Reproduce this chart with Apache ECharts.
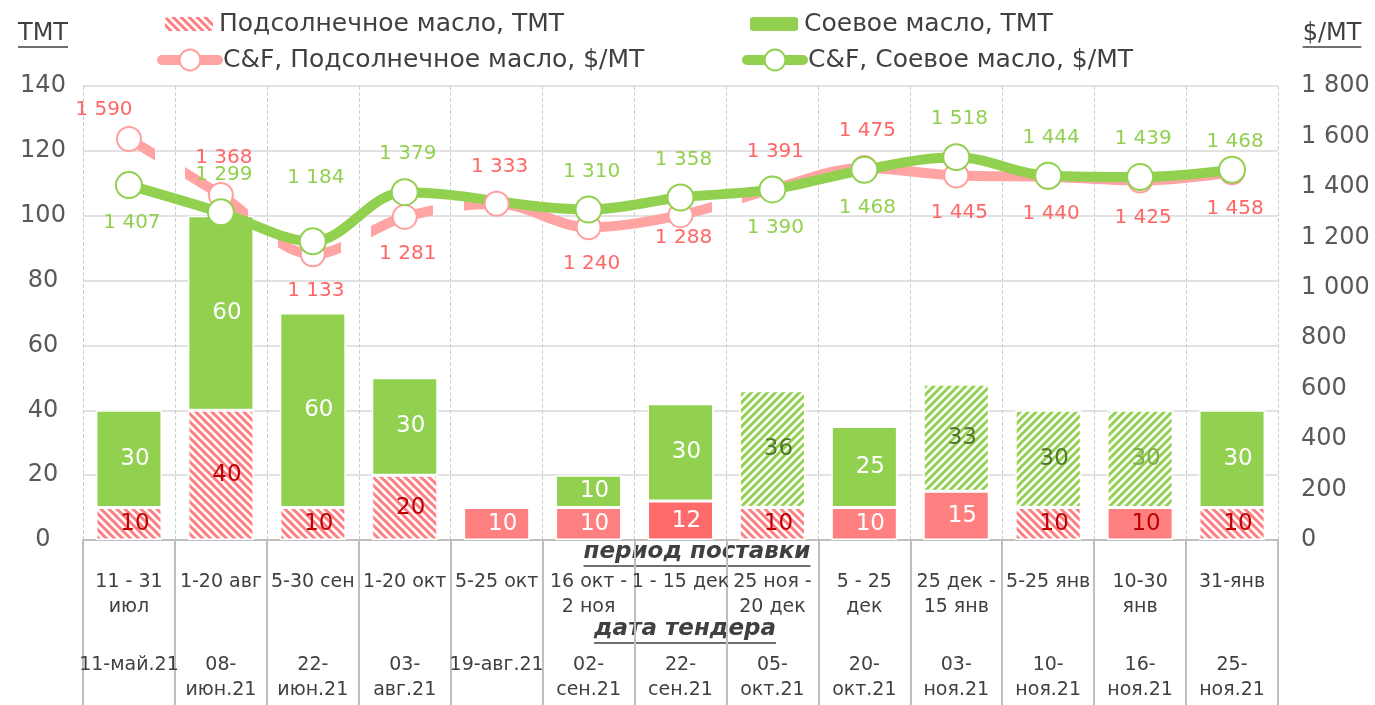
<!DOCTYPE html>
<html>
<head>
<meta charset="utf-8">
<script src="https://cdn.jsdelivr.net/npm/echarts@6/dist/echarts.min.js"></script>
<style>
  html, body { margin: 0; padding: 0; background: #fff; }
  #chart { width: 1375px; height: 705px; }
</style>
</head>
<body>
<div id="chart"></div>
<script>
// категории: период поставки / дата тендера
var deliveryPeriods = ['11 - 31\nиюл', '1-20 авг', '5-30 сен', '1-20 окт', '5-25 окт', '16 окт -\n2 ноя',
  '1 - 15 дек', '25 ноя -\n20 дек', '5 - 25\nдек', '25 дек -\n15 янв', '5-25 янв', '10-30\nянв', '31-янв'];
var tenderDates = ['11-май.21', '08-\nиюн.21', '22-\nиюн.21', '03-\nавг.21', '19-авг.21', '02-\nсен.21',
  '22-\nсен.21', '05-\nокт.21', '20-\nокт.21', '03-\nноя.21', '10-\nноя.21', '16-\nноя.21', '25-\nноя.21'];

// объемы, ТМТ
var sunflowerTmt = [10, 40, 10, 20, 10, 10, 12, 10, 10, 15, 10, 10, 10];
var soyTmt = [30, 60, 60, 30, null, 10, 30, 36, 25, 33, 30, 30, 30];

// цены C&F, $/МТ
var sunflowerPrice = [1590, 1368, 1133, 1281, 1333, 1240, 1288, 1391, 1475, 1445, 1440, 1425, 1458];
var soyPrice = [1407, 1299, 1184, 1379, null, 1310, 1358, 1390, 1468, 1518, 1444, 1439, 1468];

// шкалы
var leftTicks = { min: 0, max: 140, step: 20 };
var rightTicks = { min: 0, max: 1800, step: 200 };

// оформление (штриховка, подписи)
var sunHatched = [1, 1, 1, 1, 0, 0, 0, 1, 0, 0, 1, 0, 1];
var soyHatched = [0, 0, 0, 0, 0, 0, 0, 1, 0, 1, 1, 1, 0];
var sunLinePos = ['top', 'top', 'bottom', 'bottom', 'top', 'bottom', 'bottom', 'top', 'top', 'bottom', 'bottom', 'bottom', 'bottom'];
var soyLinePos = ['bottom', 'top', 'top', 'top', 'top', 'top', 'top', 'bottom', 'bottom', 'top', 'top', 'top', 'top'];
var sunLineGaps = [0, 1, 2, 3, 6];

var FONT = 'DejaVu Sans';
var RED = '#ff8080', GREEN = '#92d050', PINK = '#ffa3a3';

function hatch(color, back) {
  var c = document.createElement('canvas');
  c.width = 8; c.height = 8;
  var ctx = c.getContext('2d');
  ctx.fillStyle = '#fff';
  ctx.fillRect(0, 0, 8, 8);
  ctx.strokeStyle = color;
  ctx.lineWidth = 3;
  ctx.beginPath();
  for (var k = -1; k <= 1; k++) {
    if (back) { ctx.moveTo(k * 8 - 2, -2); ctx.lineTo(k * 8 + 10, 10); }
    else { ctx.moveTo(k * 8 + 10, -2); ctx.lineTo(k * 8 - 2, 10); }
  }
  ctx.stroke();
  return { image: c, repeat: 'repeat' };
}
var redHatch = hatch('#ff7c80', true);
var greenHatch = hatch(GREEN, false);

function fmt(v) {
  return String(v).replace(/\B(?=(\d{3})+(?!\d))/g, ' ');
}

var sunData = sunflowerTmt.map(function (v, i) {
  var solidColor = i === 6 ? '#ff6b6b' : RED;
  var lc = sunHatched[i] ? '#c00000' : (i === 11 ? '#c00000' : '#fff');
  return { value: v, itemStyle: { color: sunHatched[i] ? redHatch : solidColor }, label: { color: lc } };
});
var soyData = soyTmt.map(function (v, i) {
  return { value: v, itemStyle: { color: soyHatched[i] ? greenHatch : GREEN },
    label: { color: soyHatched[i] ? (i === 11 ? '#7fae4a' : '#4f7a28') : '#fff' } };
});

var sunLineOffsets = { 0: [-25, 8], 6: [3, -14] };
var soyLineOffsets = { 2: [3, -26], 12: [3, 10] };
var sunLineData = sunflowerPrice.map(function (v, i) {
  return { value: v, label: { position: sunLinePos[i], offset: sunLineOffsets[i] || [3, 0] } };
});
var soyLineData = soyPrice.map(function (v, i) {
  return { value: v, label: { position: soyLinePos[i], offset: soyLineOffsets[i] || [3, 0] } };
});

// разрывы розовой линии между столбцами
var n = sunflowerPrice.length;
var gapHalf = 0.0136;
var clear = 'rgba(255,163,163,0)';
var stops = [{ offset: 0, color: PINK }];
sunLineGaps.forEach(function (i) {
  var f = (i + 0.5) / (n - 1);
  stops.push({ offset: f - gapHalf, color: PINK }, { offset: f - gapHalf, color: clear },
    { offset: f + gapHalf, color: clear }, { offset: f + gapHalf, color: PINK });
});
stops.push({ offset: 1, color: PINK });

var measure = document.createElement('canvas').getContext('2d');
function textW(s, font) { measure.font = font; return measure.measureText(s).width; }

function underlined(text, cx, cy, font, uy) {
  var w = textW(text, font);
  return [
    { type: 'text', x: cx, y: cy, style: { text: text, font: font, fill: '#404040', align: 'center', verticalAlign: 'middle' } },
    { type: 'line', shape: { x1: cx - w / 2, y1: uy, x2: cx + w / 2, y2: uy }, style: { stroke: '#404040', lineWidth: 1.5 } }
  ];
}

var chart = echarts.init(document.getElementById('chart'));
var legendText = { fontSize: 25, color: '#404040', fontFamily: FONT, lineHeight: 30 };

chart.setOption({
  animation: false,
  textStyle: { fontFamily: FONT },
  grid: { left: 83, right: 97, top: 86, bottom: 165 },
  legend: [
    { data: ['Подсолнечное масло, ТМТ'], left: 163, top: 9, padding: 0, itemWidth: 50, itemHeight: 16, textStyle: legendText },
    { data: ['Соевое масло, ТМТ'], left: 748, top: 9, padding: 0, itemWidth: 50, itemHeight: 16, textStyle: legendText },
    { data: ['C&F, Подсолнечное масло, $/МТ'], left: 157, top: 45, padding: 0, itemWidth: 56, itemHeight: 26,
      itemGap: 0, lineStyle: { color: PINK, width: 10 }, textStyle: legendText },
    { data: ['C&F, Соевое масло, $/МТ'], left: 742, top: 45, padding: 0, itemWidth: 56, itemHeight: 26,
      itemGap: 0, lineStyle: { width: 10 }, textStyle: legendText }
  ],
  xAxis: {
    type: 'category',
    data: deliveryPeriods,
    axisLine: { lineStyle: { color: '#bfbfbf', width: 2 } },
    axisTick: { show: true, interval: 0, length: 165, lineStyle: { color: '#bfbfbf', width: 2 } },
    splitLine: { show: true, interval: 0, lineStyle: { color: '#cfcfcf', type: 'dashed', width: 1 } },
    axisLabel: {
      interval: 0,
      margin: 30,
      formatter: function (v, i) {
        var d = deliveryPeriods[i].split('\n');
        var t = tenderDates[i].split('\n');
        while (d.length < 2) d.push(' ');
        while (t.length < 2) t.push(' ');
        return d.map(function (s) { return '{d|' + s + '}'; }).join('\n') + '\n{s| }\n' +
          t.map(function (s) { return '{d|' + s + '}'; }).join('\n');
      },
      rich: {
        d: { fontSize: 19, lineHeight: 25, color: '#404040', fontFamily: FONT },
        s: { fontSize: 10, lineHeight: 33 }
      }
    }
  },
  yAxis: [
    {
      type: 'value', min: leftTicks.min, max: leftTicks.max, interval: leftTicks.step,
      axisLine: { show: false }, axisTick: { show: false },
      axisLabel: { fontSize: 24, color: '#595959', align: 'center', margin: 40 },
      splitLine: { lineStyle: { color: '#d9d9d9', width: 1.5 } }
    },
    {
      type: 'value', min: rightTicks.min, max: rightTicks.max, interval: rightTicks.step, position: 'right',
      axisLine: { show: false }, axisTick: { show: false }, splitLine: { show: false },
      axisLabel: { fontSize: 24, color: '#595959', margin: 23, formatter: fmt }
    }
  ],
  graphic: underlined('ТМТ', 43, 34, '24px "' + FONT + '"', 47)
    .concat(underlined('$/МТ', 1332, 34, '24px "' + FONT + '"', 47))
    .concat(underlined('период поставки', 697, 552, 'italic bold 23px "' + FONT + '"', 566))
    .concat(underlined('дата тендера', 685, 629, 'italic bold 23px "' + FONT + '"', 643)),
  series: [
    {
      name: 'Подсолнечное масло, ТМТ', type: 'bar', stack: 'tmt', barWidth: 66,
      itemStyle: { color: redHatch, borderColor: '#fff', borderWidth: 1.5 },
      label: { show: true, position: 'inside', offset: [6, 0], fontSize: 23 },
      data: sunData
    },
    {
      name: 'Соевое масло, ТМТ', type: 'bar', stack: 'tmt', barWidth: 66,
      itemStyle: { color: GREEN, borderColor: '#fff', borderWidth: 1.5 },
      label: { show: true, position: 'inside', offset: [6, 0], fontSize: 23 },
      data: soyData
    },
    {
      name: 'C&F, Подсолнечное масло, $/МТ', type: 'line', yAxisIndex: 1, smooth: 0.35,
      symbol: 'circle', symbolSize: 24,
      itemStyle: { color: '#fff', borderColor: '#ff9f9f', borderWidth: 2 },
      lineStyle: { width: 10, cap: 'round', join: 'round',
        color: { type: 'linear', x: 0, y: 0, x2: 1, y2: 0, colorStops: stops } },
      label: { show: true, fontSize: 20, color: '#ff6666', distance: 14, formatter: function (p) { return fmt(p.value); } },
      data: sunLineData
    },
    {
      name: 'C&F, Соевое масло, $/МТ', type: 'line', yAxisIndex: 1, smooth: 0.35, connectNulls: true,
      symbol: 'circle', symbolSize: 26,
      itemStyle: { color: '#fff', borderColor: GREEN, borderWidth: 2 },
      lineStyle: { width: 10, color: GREEN, cap: 'round', join: 'round' },
      label: { show: true, fontSize: 20, color: GREEN, distance: 14, formatter: function (p) { return fmt(p.value); } },
      data: soyLineData
    }
  ]
});
</script>
</body>
</html>
